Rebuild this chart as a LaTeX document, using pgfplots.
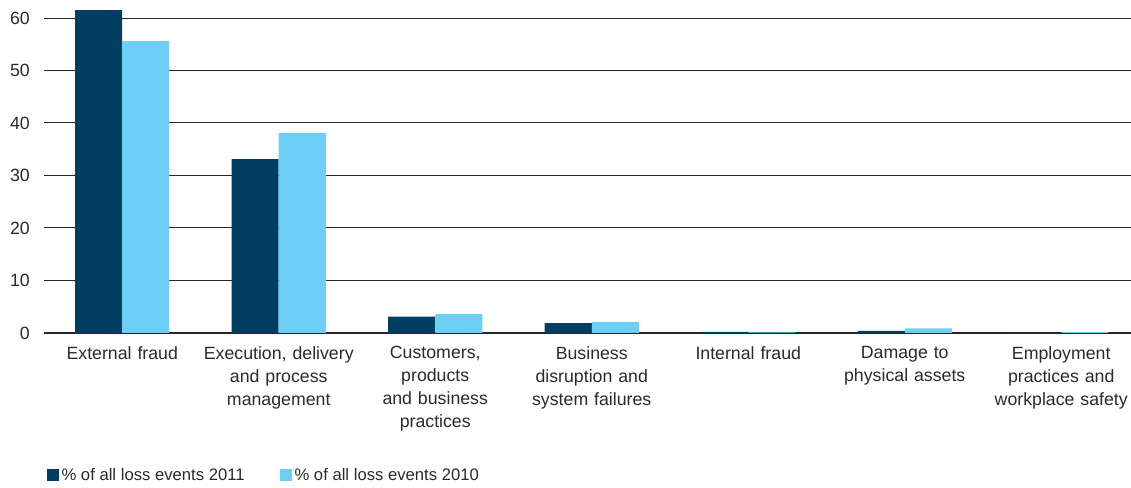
\documentclass[border=0pt]{standalone}
\usepackage{pgfplots}
\pgfplotsset{compat=1.18}
\usepackage{fontspec}
\setmainfont{Liberation Sans}
\definecolor{dk}{HTML}{013F62}
\definecolor{lt}{HTML}{6DCFF6}
\definecolor{txt}{HTML}{2A2A2A}
\begin{document}
\begin{tikzpicture}[x=0.75pt,y=0.75pt]
\useasboundingbox (0,0) rectangle (1131,488);
\begin{axis}[
  at={(33pt,116.25pt)}, anchor=south west,
  scale only axis,
  width=821.625pt, height=248.0625pt,
  xmin=-0.5, xmax=6.5, ymin=0, ymax=63,
  ybar=0pt, bar width=35.25pt,
  axis x line*=bottom, axis y line*=left,
  y axis line style={draw=none},
  x axis line style={line width=1.2pt, color=black!85, -},
  ytick={0,10,...,60},
  /pgf/number format/assume math mode=true,
  ymajorgrids, grid style={line width=0.75pt, black!85},
  major tick length=0pt,
  xtick={0,...,6},
  xticklabels={External fraud, {Execution, delivery\\and process\\management}, {Customers,\\products\\and business\\practices}, {Business\\disruption and\\system failures}, Internal fraud, {Damage to\\physical assets}, {Employment\\practices and\\workplace safety}},
  every tick label/.append style={font=\fontsize{13.3}{17.25}\selectfont, text=txt},
  xticklabel style={text width=170*0.75pt, align=center, anchor=north, inner sep=0pt, yshift=-10pt},
  yticklabel style={anchor=east, inner sep=0pt, xshift=-10.5pt},
  clip=false,
  legend style={draw=none, fill=none, legend columns=2, at={(rel axis cs:0.0027,-0.4293)}, anchor=west, inner sep=0pt, font=\fontsize{12.5}{15}\selectfont, text=txt, /tikz/every even column/.append style={column sep=0pt}},
  legend image code/.code={\fill[#1] (0pt,-4.4pt) rectangle (8.75pt,4.4pt);},
]
\addplot[fill=dk, draw=none] coordinates {(0,61.5) (1,33.1) (2,3.1) (3,1.9) (4,0.2) (5,0.4) (6,0.0)};
\addplot[fill=lt, draw=none] coordinates {(0,55.6) (1,38.1) (2,3.6) (3,2.1) (4,0.1) (5,0.9) (6,0.2)};
\addlegendentry{\makebox[162pt][l]{\% of all loss events 2011}}
\addlegendentry{\% of all loss events 2010}
\end{axis}
\end{tikzpicture}
\end{document}
